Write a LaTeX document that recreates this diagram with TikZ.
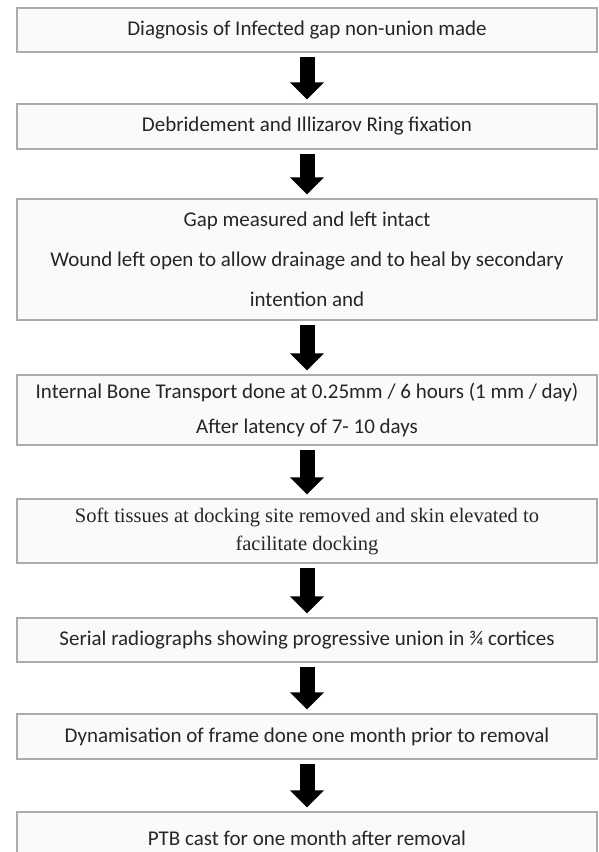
\documentclass[tikz,border=0pt]{standalone}
\usepackage{fontspec}
\setmainfont{Carlito}
\newfontfamily\timesfont{Liberation Serif}
\usetikzlibrary{arrows.meta}

\begin{document}
\begin{tikzpicture}[x=1pt,y=1pt,
  stepbox/.style={draw=gray!65, line width=1.1pt, fill=black!2, minimum width=580pt,
    inner sep=0pt, align=center, text=black!85, font=\fontsize{21}{26}\selectfont},
  flowarrow/.style={line width=15pt, -{Triangle[length=17pt,width=33pt]},
    shorten <=4pt, shorten >=4pt}]
\useasboundingbox (0,0) rectangle (598,852);
\clip (0,0) rectangle (598,852);
\fill[white] (0,0) rectangle (598,852);
% steps
\node[stepbox, minimum height=44pt] (diag) at (307,822) {Diagnosis of Infected gap non-union made};
\node[stepbox, minimum height=45pt] (debr) at (307,725.5) {Debridement and Illizarov Ring fixation};
\node[stepbox, minimum height=121pt, font=\fontsize{21}{40}\selectfont] (gap) at (307,592.5)
  {Gap measured and left intact\\Wound left open to allow drainage and to heal by secondary\\intention and};
\node[stepbox, minimum height=70pt, font=\fontsize{21}{35}\selectfont] (transp) at (307,442)
  {Internal Bone Transport done at 0.25mm / 6 hours (1 mm / day)\\After latency of 7- 10 days};
\node[stepbox, minimum height=64pt, font=\timesfont\fontsize{20.5}{28}\selectfont] (dock) at (307,321)
  {Soft tissues at docking site removed and skin elevated to\\facilitate docking};
\node[stepbox, minimum height=44pt] (xray) at (307,212) {Serial radiographs showing progressive union in ¾ cortices};
\node[stepbox, minimum height=45pt] (dyna) at (307,115.5) {Dynamisation of frame done one month prior to removal};
\node[stepbox, minimum height=52pt] (cast) at (307,14) {PTB cast for one month after removal};
% arrows
\draw[flowarrow] (diag) -- (debr);
\draw[flowarrow] (debr) -- (gap);
\draw[flowarrow] (gap) -- (transp);
\draw[flowarrow] (transp) -- (dock);
\draw[flowarrow] (dock) -- (xray);
\draw[flowarrow] (xray) -- (dyna);
\draw[flowarrow] (dyna) -- (cast);
\end{tikzpicture}
\end{document}
